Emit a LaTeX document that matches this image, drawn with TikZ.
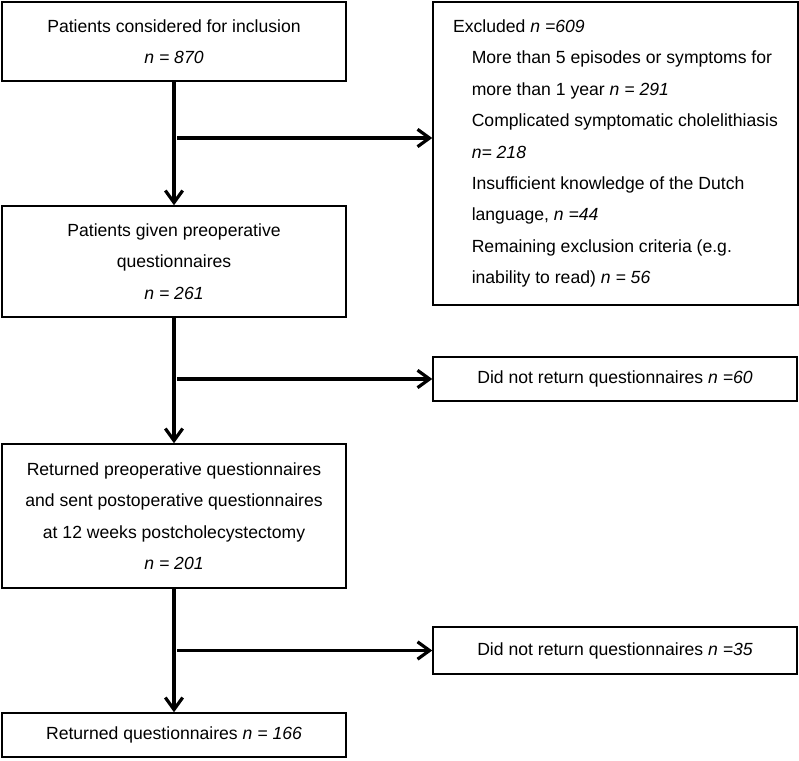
\documentclass[tikz,border=0pt]{standalone}
\usepackage{fontspec}
\setmainfont{Liberation Sans}
\usetikzlibrary{arrows.meta}

\newcommand{\ind}{\hspace*{14pt}}

\begin{document}
\begin{tikzpicture}[x=0.75pt, y=-0.75pt,
        every node/.style={font=\fontsize{13.2pt}{23.6pt}\selectfont},
        box/.style={draw, line width=1.1pt, align=center, inner sep=0pt},
        flow/.style={line width=2.4pt, -{Straight Barb[length=9pt,width=13pt,line width=2.4pt]}}]
        \useasboundingbox (0,0) rectangle (799,760);
        \node[box, minimum width=258pt, minimum height=59.25pt] (incl) at (174,41.5) {Patients considered for inclusion\\ \textit{n = 870}};
        \node[box, minimum width=258pt, minimum height=83.25pt] (given) at (174,261.5) {Patients given preoperative\\ questionnaires\\ \textit{n = 261}};
        \node[box, minimum width=258pt, minimum height=108pt] (sent) at (174,516) {Returned preoperative questionnaires\\ and sent postoperative questionnaires\\ at 12 weeks postcholecystectomy\\ \textit{n = 201}};
        \node[box, minimum width=258pt, minimum height=33pt] (final) at (174,735) {Returned questionnaires \textit{n = 166}};
        \node[box, align=left, minimum width=273.75pt, minimum height=227.25pt] (excl) at (615.5,153.5) {Excluded \textit{n =609}\\
            \ind More than 5 episodes or symptoms for\\
            \ind more than 1 year \textit{n = 291}\\
            \ind Complicated symptomatic cholelithiasis\\
            \ind \textit{n= 218}\\
            \ind Insufficient knowledge of the Dutch\\
            \ind language, \textit{n =44}\\
            \ind Remaining exclusion criteria (e.g.\\
            \ind inability to read) \textit{n = 56}};
        \node[box, minimum width=273pt, minimum height=33pt] (ret60) at (615,379) {Did not return questionnaires \textit{n =60}};
        \node[box, minimum width=273pt, minimum height=35.25pt] (ret35) at (615,650.5) {Did not return questionnaires \textit{n =35}};
        \coordinate (j1) at (177,138);
        \coordinate (j2) at (177,379);
        \coordinate (j3) at (177,650.5);
        \draw[flow] (incl) -- (given);
        \draw[flow] (given) -- (sent);
        \draw[flow] (sent) -- (final);
        \draw[flow] (j1) -- (j1 -| excl.west);
        \draw[flow] (j2) -- (ret60);
        \draw[flow] (j3) -- (ret35);
    \end{tikzpicture}
\end{document}
